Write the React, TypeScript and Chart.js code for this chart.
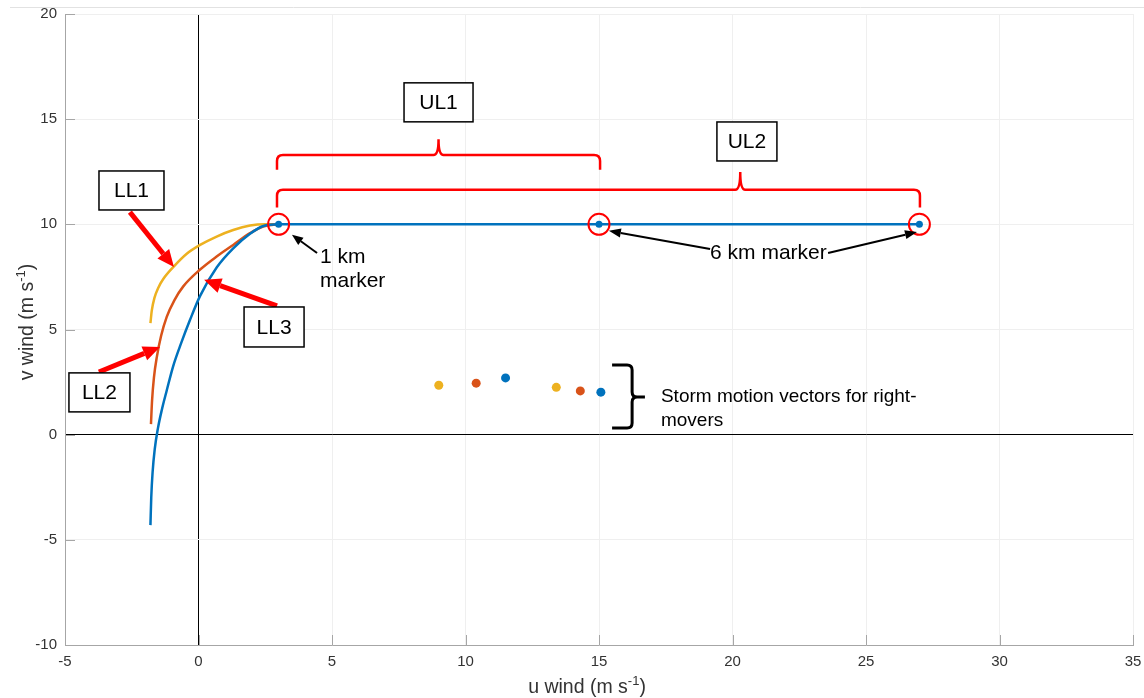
import React, { useEffect, useRef } from "react";
import { Chart, registerables } from "chart.js";

Chart.register(...registerables);

// LL1 hodograph (yellow)
const ll1U = [-1.8, -1.75, -1.65, -1.5, -1.32, -0.92, -0.44, 0.06, 0.68, 1.3, 1.93, 2.5, 3.0];
const ll1V = [5.3, 5.9, 6.5, 7.0, 7.4, 8.0, 8.6, 9.02, 9.42, 9.73, 9.94, 10.0, 10.0];
// LL2 hodograph (orange)
const ll2U = [-1.78, -1.74, -1.67, -1.56, -1.4, -1.19, -0.9, -0.57, 0.06, 0.68, 1.3, 1.93, 2.42, 3.0];
const ll2V = [0.5, 1.6, 2.7, 3.7, 4.7, 5.6, 6.4, 7.05, 7.85, 8.47, 9.02, 9.58, 9.9, 10.0];
// LL3 hodograph + upper levels (blue)
const ll3U = [-1.8, -1.77, -1.72, -1.64, -1.52, -1.37, -1.19, -0.95, -0.65, -0.32, 0.06, 0.68, 1.3, 1.93, 2.43, 3.0, 15.0, 27.0];
const ll3V = [-4.3, -3.0, -1.8, -0.7, 0.3, 1.2, 2.1, 3.25, 4.35, 5.45, 6.6, 7.95, 8.86, 9.55, 9.92, 10.0, 10.0, 10.0];
// 1 km and 6 km markers
const markerU = [3, 15, 27];
const markerV = [10, 10, 10];
// Storm motion vectors (right movers)
const stormYellowU = [9.0, 13.4];
const stormYellowV = [2.35, 2.25];
const stormOrangeU = [10.4, 14.3];
const stormOrangeV = [2.45, 2.08];
const stormBlueU = [11.5, 15.07];
const stormBlueV = [2.7, 2.02];

const xTickValues = [-5, 0, 5, 10, 15, 20, 25, 30, 35];
const yTickValues = [-10, -5, 0, 5, 10, 15, 20];

const BLUE = "#0072BD";
const ORANGE = "#D95319";
const YELLOW = "#EDB120";
const FONT = "'Liberation Sans', Arial, Helvetica, sans-serif";

const pts = (u: number[], v: number[]) => u.map((x, i) => ({ x, y: v[i] }));

function arrow(ctx: CanvasRenderingContext2D, x1: number, y1: number, x2: number, y2: number, color: string, lw: number, hl: number, hw: number) {
  const ang = Math.atan2(y2 - y1, x2 - x1);
  const bx = x2 - Math.cos(ang) * hl;
  const by = y2 - Math.sin(ang) * hl;
  ctx.save();
  ctx.strokeStyle = color;
  ctx.fillStyle = color;
  ctx.lineWidth = lw;
  ctx.lineCap = "butt";
  ctx.beginPath();
  ctx.moveTo(x1, y1);
  ctx.lineTo(bx, by);
  ctx.stroke();
  const px = -Math.sin(ang) * hw / 2;
  const py = Math.cos(ang) * hw / 2;
  ctx.beginPath();
  ctx.moveTo(x2, y2);
  ctx.lineTo(bx + px, by + py);
  ctx.lineTo(bx - px, by - py);
  ctx.closePath();
  ctx.fill();
  ctx.restore();
}

function box(ctx: CanvasRenderingContext2D, cx: number, cy: number, w: number, h: number, text: string) {
  ctx.save();
  ctx.fillStyle = "#ffffff";
  ctx.fillRect(cx - w / 2, cy - h / 2, w, h);
  ctx.strokeStyle = "#000000";
  ctx.lineWidth = 1.5;
  ctx.strokeRect(cx - w / 2, cy - h / 2, w, h);
  ctx.fillStyle = "#000000";
  ctx.font = `21px ${FONT}`;
  ctx.textAlign = "center";
  ctx.textBaseline = "middle";
  ctx.fillText(text, cx, cy + 1);
  ctx.restore();
}

function bracket(ctx: CanvasRenderingContext2D, x1: number, x2: number, y: number, yEnd: number, xn: number, yTip: number) {
  const r = 6;
  ctx.save();
  ctx.strokeStyle = "#ff0000";
  ctx.lineWidth = 2.5;
  ctx.beginPath();
  ctx.moveTo(x1, yEnd);
  ctx.lineTo(x1, y + r);
  ctx.quadraticCurveTo(x1, y, x1 + r, y);
  ctx.lineTo(xn - 5, y);
  ctx.quadraticCurveTo(xn, y, xn, yTip);
  ctx.quadraticCurveTo(xn, y, xn + 5, y);
  ctx.lineTo(x2 - r, y);
  ctx.quadraticCurveTo(x2, y, x2, y + r);
  ctx.lineTo(x2, yEnd);
  ctx.stroke();
  ctx.restore();
}

const annotations = {
  id: "annotations",
  beforeDraw(chart: any) {
    const ctx = chart.ctx as CanvasRenderingContext2D;
    ctx.save();
    ctx.strokeStyle = "#e2e2e2";
    ctx.lineWidth = 1;
    ctx.beginPath();
    ctx.moveTo(10, 7.5);
    ctx.lineTo(chart.width, 7.5);
    ctx.stroke();
    ctx.restore();
  },
  afterDatasetsDraw(chart: any) {
    const ctx = chart.ctx as CanvasRenderingContext2D;
    const xs = chart.scales.x;
    const ys = chart.scales.y;
    const X = (u: number) => xs.getPixelForValue(u);
    const Y = (v: number) => ys.getPixelForValue(v);
    const a = chart.chartArea;

    // inward ticks
    ctx.save();
    ctx.strokeStyle = "#a6a6a6";
    ctx.lineWidth = 1;
    ctx.beginPath();
    xTickValues.forEach((u) => {
      const px = Math.round(X(u)) + 0.5;
      ctx.moveTo(px, a.bottom);
      ctx.lineTo(px, a.bottom - 10);
    });
    yTickValues.forEach((v) => {
      const py = Math.round(Y(v)) + 0.5;
      ctx.moveTo(a.left, py);
      ctx.lineTo(a.left + 10, py);
    });
    ctx.stroke();

    // tick labels
    ctx.fillStyle = "#333333";
    ctx.font = `15px ${FONT}`;
    ctx.textAlign = "center";
    ctx.textBaseline = "middle";
    xTickValues.forEach((u) => ctx.fillText(String(u), X(u), a.bottom + 17));
    ctx.textAlign = "right";
    yTickValues.forEach((v) => ctx.fillText(String(v), a.left - 8, Y(v)));
    ctx.restore();

    // axis titles
    const title = (label: string, cx: number, cy: number, rot: boolean) => {
      ctx.save();
      ctx.fillStyle = "#333333";
      ctx.textBaseline = "alphabetic";
      ctx.textAlign = "left";
      ctx.translate(cx, cy);
      if (rot) ctx.rotate(-Math.PI / 2);
      const big = `19.5px ${FONT}`;
      const small = `13px ${FONT}`;
      ctx.font = big;
      const w1 = ctx.measureText(label).width;
      const w3 = ctx.measureText(")").width;
      ctx.font = small;
      const w2 = ctx.measureText("-1").width;
      let x = -(w1 + w2 + w3) / 2;
      ctx.font = big;
      ctx.fillText(label, x, 0);
      x += w1;
      ctx.font = small;
      ctx.fillText("-1", x, -8);
      x += w2;
      ctx.font = big;
      ctx.fillText(")", x, 0);
      ctx.restore();
    };
    title("u wind (m s", 587, 693, false);
    title("v wind (m s", 33, 322, true);

    // red circles around markers
    ctx.save();
    ctx.strokeStyle = "#ff0000";
    ctx.lineWidth = 2;
    markerU.forEach((u, i) => {
      ctx.beginPath();
      ctx.arc(X(u), Y(markerV[i]), 10.5, 0, Math.PI * 2);
      ctx.stroke();
    });
    ctx.restore();

    // brackets UL1 / UL2
    bracket(ctx, X(2.94), X(15.04), Y(13.3), Y(12.59), X(8.99), Y(14.05));
    bracket(ctx, X(2.94), X(27.02), Y(11.64), Y(10.8), X(20.29), Y(12.49));

    // red arrows
    arrow(ctx, X(-2.57), Y(10.58), X(-0.92), Y(7.97), "#ff0000", 5, 17, 15);
    arrow(ctx, X(-3.73), Y(2.98), X(-1.44), Y(4.17), "#ff0000", 5, 17, 15);
    arrow(ctx, X(2.94), Y(6.12), X(0.21), Y(7.36), "#ff0000", 5, 17, 15);

    // black arrows
    arrow(ctx, X(4.44), Y(8.64), X(3.5), Y(9.5), "#000000", 2, 11, 9);
    arrow(ctx, X(19.16), Y(8.83), X(15.37), Y(9.69), "#000000", 2, 12, 9);
    arrow(ctx, X(23.58), Y(8.64), X(26.91), Y(9.64), "#000000", 2, 12, 9);

    // boxes
    box(ctx, X(-2.51), Y(11.61), 65, 39, "LL1");
    box(ctx, X(-3.71), Y(2.01), 61, 39, "LL2");
    box(ctx, X(2.83), Y(5.12), 60, 40, "LL3");
    box(ctx, X(8.99), Y(15.8), 69, 39, "UL1");
    box(ctx, X(20.54), Y(13.94), 60, 39, "UL2");

    // texts
    ctx.save();
    ctx.fillStyle = "#000000";
    ctx.textAlign = "left";
    ctx.textBaseline = "alphabetic";
    ctx.font = `21px ${FONT}`;
    ctx.fillText("1 km", X(4.55), Y(8.15));
    ctx.fillText("marker", X(4.55), Y(8.15) + 24);
    ctx.fillText("6 km marker", X(19.16), Y(8.36));
    ctx.font = `19px ${FONT}`;
    ctx.fillText("Storm motion vectors for right-", X(17.32), Y(1.56));
    ctx.fillText("movers", X(17.32), Y(1.56) + 24);
    ctx.restore();

    // black curly brace
    const bx = X(15.49);
    const bTop = Y(3.31);
    const bBot = Y(0.32);
    const bMid = Y(1.79);
    const bV = X(16.24);
    const bP = X(16.72);
    ctx.save();
    ctx.strokeStyle = "#000000";
    ctx.lineWidth = 3;
    ctx.beginPath();
    ctx.moveTo(bx, bTop);
    ctx.lineTo(bV - 5, bTop);
    ctx.quadraticCurveTo(bV, bTop, bV, bTop + 5);
    ctx.lineTo(bV, bMid - 5);
    ctx.quadraticCurveTo(bV, bMid, bV + 5, bMid);
    ctx.lineTo(bP, bMid);
    ctx.moveTo(bV + 5, bMid);
    ctx.quadraticCurveTo(bV, bMid, bV, bMid + 5);
    ctx.lineTo(bV, bBot - 5);
    ctx.quadraticCurveTo(bV, bBot, bV - 5, bBot);
    ctx.lineTo(bx, bBot);
    ctx.stroke();
    ctx.restore();
  },
};

export default function App() {
  const ref = useRef<HTMLCanvasElement | null>(null);
  useEffect(() => {
    if (!ref.current) return;
    const gridColor = (c: any) => (c.tick && c.tick.value === 0 ? "#000000" : "#efefef");
    const line = { showLine: true, borderWidth: 2.5, pointRadius: 0, cubicInterpolationMode: "monotone" as const };
    const chart = new Chart(ref.current, {
      type: "scatter",
      data: {
        datasets: [
          { ...line, data: pts(ll3U, ll3V), borderColor: BLUE, order: 3 },
          { ...line, data: pts(ll2U, ll2V), borderColor: ORANGE, order: 4 },
          { ...line, data: pts(ll1U, ll1V), borderColor: YELLOW, order: 5 },
          { data: pts(markerU, markerV), showLine: false, pointRadius: 3.5, pointBackgroundColor: BLUE, pointBorderWidth: 0, order: 2 },
          { data: pts(stormYellowU, stormYellowV), showLine: false, pointRadius: 4.5, pointBackgroundColor: YELLOW, pointBorderWidth: 0, order: 1 },
          { data: pts(stormOrangeU, stormOrangeV), showLine: false, pointRadius: 4.5, pointBackgroundColor: ORANGE, pointBorderWidth: 0, order: 1 },
          { data: pts(stormBlueU, stormBlueV), showLine: false, pointRadius: 4.5, pointBackgroundColor: BLUE, pointBorderWidth: 0, order: 1 },
        ],
      },
      options: {
        animation: false,
        responsive: false,
        devicePixelRatio: 1,
        layout: { padding: { top: 14, right: 11, left: 0, bottom: 0 } },
        plugins: { legend: { display: false }, tooltip: { enabled: false } },
        scales: {
          x: {
            type: "linear",
            min: -5,
            max: 35,
            ticks: { stepSize: 5, display: false },
            grid: { color: gridColor, drawTicks: false, lineWidth: 1 },
            border: { color: "#a6a6a6", width: 1 },
            afterFit: (s: any) => { s.height = 53; },
          },
          y: {
            type: "linear",
            min: -10,
            max: 20,
            ticks: { stepSize: 5, display: false },
            grid: { color: gridColor, drawTicks: false, lineWidth: 1 },
            border: { color: "#a6a6a6", width: 1 },
            afterFit: (s: any) => { s.width = 65; },
          },
        },
      },
      plugins: [annotations],
    });
    return () => chart.destroy();
  }, []);
  return (
    <div style={{ position: "absolute", left: 0, top: 0, width: 1144, height: 698, background: "#fff" }}>
      <canvas ref={ref} width={1144} height={698} style={{ width: 1144, height: 698 }} />
    </div>
  );
}
